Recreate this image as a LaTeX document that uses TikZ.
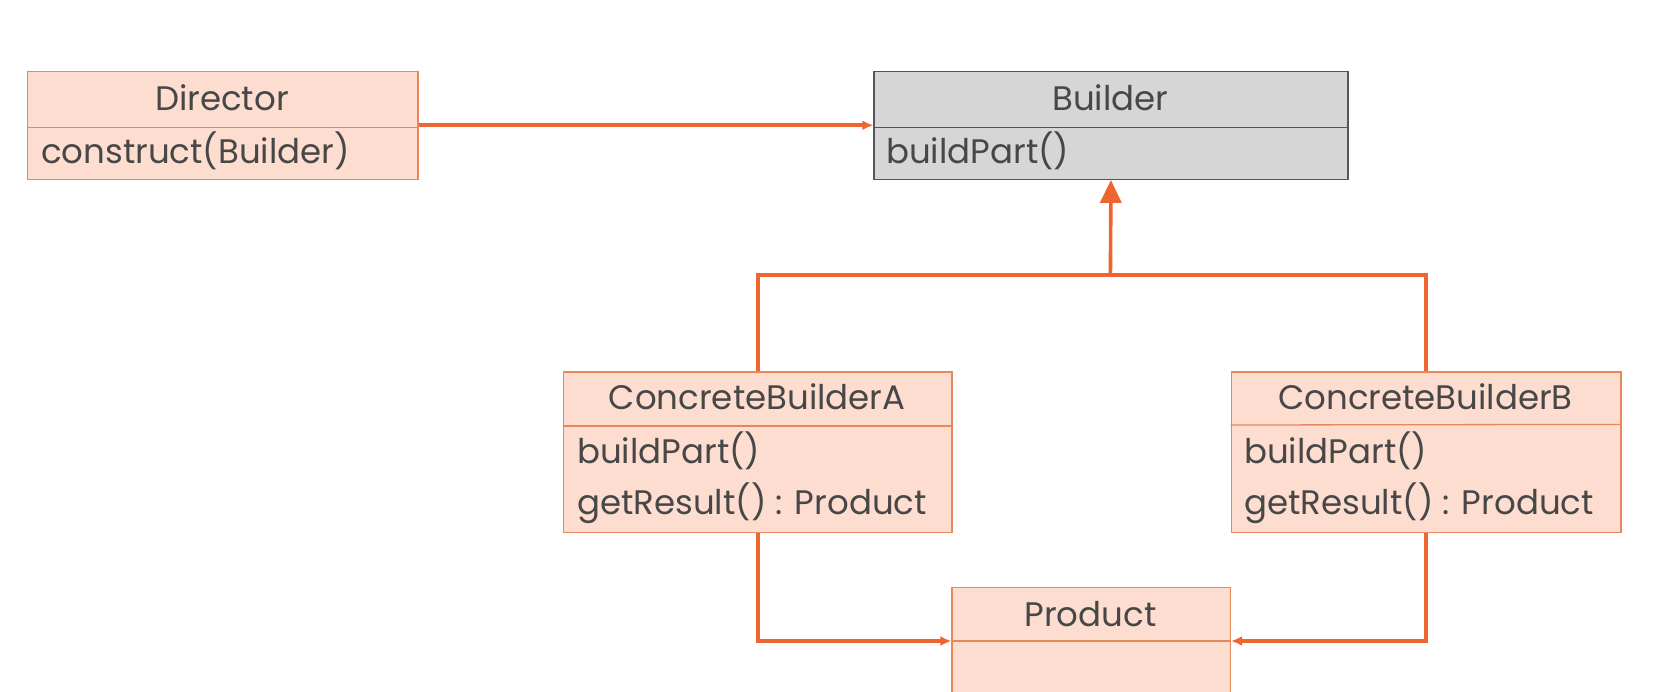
\documentclass[tikz,border=0pt]{standalone}
\usepackage{fontspec}
\setmainfont{Poppins}
\usetikzlibrary{arrows.meta}
\definecolor{boxfill}{HTML}{FDDDD0}
\definecolor{boxline}{HTML}{E8875A}
\definecolor{conn}{HTML}{EE6530}
\definecolor{txt}{HTML}{474747}
\definecolor{absfill}{HTML}{D6D6D6}
\definecolor{absline}{HTML}{555555}
\begin{document}
\begin{tikzpicture}[x=1pt,y=-1pt,
  cls/.style={draw=boxline, fill=boxfill, line width=1.3pt, rectangle, inner sep=0pt, anchor=north west},
  abs/.style={draw=absline, fill=absfill, line width=1.3pt, rectangle, inner sep=0pt, anchor=north west},
  title/.style={font=\fontsize{34}{34}\selectfont, text=txt, inner sep=0pt, anchor=center},
  meth/.style={font=\fontsize{34}{34}\selectfont, text=txt, inner sep=0pt, anchor=west},
  conline/.style={draw=conn, line width=3.6pt},
  arr/.style={conline, -{Latex[length=11pt,width=10pt]}},
  inh/.style={conline, -{Triangle[length=23pt,width=21pt]}},
]
\useasboundingbox[fill=white] (0,0) rectangle (1678,691);
\begin{scope}
\clip (0,0) rectangle (1678,691);
% Director
\node[cls, minimum width=390.6pt, minimum height=108pt] (dir) at (26.8,70.6) {};
\draw[boxline, line width=1.3pt] (26.8,127.4) -- (417.4,127.4);
\node[title] (dirT) at (222,97.4) {Director};
\node[meth] (dirM) at (41,151) {construct(Builder)};
% Builder
\node[abs, minimum width=474pt, minimum height=108pt] (bld) at (873.3,70.6) {};
\draw[absline, line width=1.3pt] (873.3,127.4) -- (1347.4,127.4);
\node[title] (bldT) at (1110.4,97.4) {Builder};
\node[meth] (bldM) at (886,151) {buildPart()};
% ConcreteBuilderA
\node[cls, minimum width=388.5pt, minimum height=160.5pt] (cba) at (562.9,371.4) {};
\draw[boxline, line width=1.3pt] (562.9,425.9) -- (951.4,425.9);
\node[title] (cbaT) at (757.2,397) {ConcreteBuilderA};
\node[meth] (cbaM1) at (577,450.6) {buildPart()};
\node[meth] (cbaM2) at (577,503) {getResult() : Product};
% ConcreteBuilderB
\node[cls, minimum width=389.6pt, minimum height=160.5pt] (cbb) at (1230.7,371.4) {};
\draw[boxline, line width=1.3pt] (1230.7,425) -- (1620.3,424.4);
\node[title] (cbbT) at (1425.5,397) {ConcreteBuilderB};
\node[meth] (cbbM1) at (1244,450.6) {buildPart()};
\node[meth] (cbbM2) at (1244,503) {getResult() : Product};
% Product
\node[cls, minimum width=278.3pt, minimum height=160pt] (prod) at (951.4,586.5) {};
\draw[boxline, line width=1.3pt] (951.4,641) -- (1229.7,641);
\node[title] (prodT) at (1090.5,614) {Product};
\coordinate (pdiv) at (1090.5,641);
% connectors
\draw[arr] (dir.east) -- (bld.west);
\coordinate (j) at (1110.4,275);
\draw[conline] (cba.north) |- (j) -| (cbb.north);
\draw[inh] (j) -- (bld.south);
\draw[arr] (cba.south) |- (prod.west |- pdiv);
\draw[arr] (cbb.south) |- (prod.east |- pdiv);
\end{scope}
\end{tikzpicture}
\end{document}
